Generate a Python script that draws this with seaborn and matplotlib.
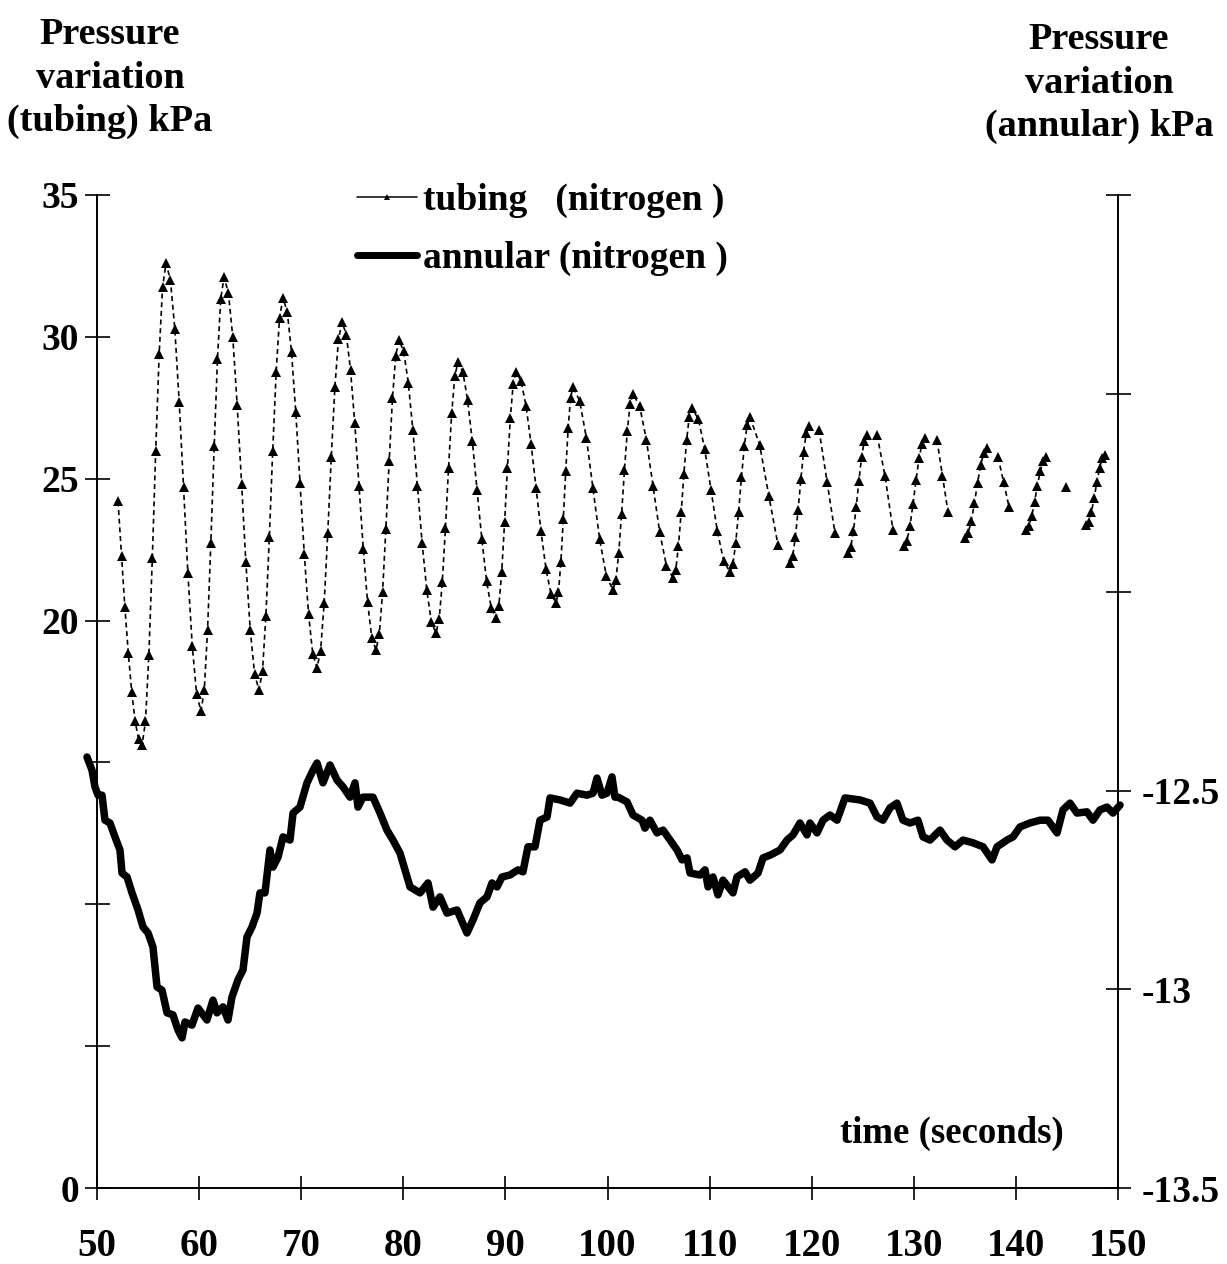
import numpy as np
import pandas as pd
import matplotlib
matplotlib.use("Agg")
import matplotlib.pyplot as plt
import seaborn as sns
from matplotlib.lines import Line2D

nan = np.nan

# ---------------- data ----------------
x_ticks = [50, 60, 70, 80, 90, 100, 110, 120, 130, 140, 150]
left_ticks = [0, 5, 10, 15, 20, 25, 30, 35]
left_labels = ["0", "", "", "", "20", "25", "30", "35"]
right_ticks = [-13.5, -13.0, -12.5, -12.0, -11.5, -11.0]
right_labels = ["-13.5", "-13", "-12.5", "", "", ""]

tubing_time = [
    52.06, 52.40, 52.73, 53.07, 53.40, 53.74, 54.07,
    54.41, 54.75, 55.08, 55.42, 55.75, 56.09, 56.42,
    56.76, 57.19, 57.62, 58.05, 58.48, 58.90, 59.33, 59.76,
    60.19, 60.51, 60.83, 61.15, 61.48, 61.80, 62.12,
    62.44, 62.87, 63.30, 63.73, 64.16, 64.58, 65.01, 65.44,
    65.87, 66.21, 66.54, 66.88, 67.21, 67.55, 67.88,
    68.22, 68.64, 69.05, 69.47, 69.89, 70.30, 70.72, 71.13,
    71.55, 71.90, 72.25, 72.60, 72.95, 73.30, 73.65,
    74.00, 74.42, 74.83, 75.25, 75.67, 76.08, 76.50, 76.91,
    77.33, 77.65, 77.97, 78.29, 78.62, 78.94, 79.26,
    79.58, 80.03, 80.49, 80.94, 81.39, 81.84, 82.30, 82.75,
    83.20, 83.51, 83.82, 84.13, 84.43, 84.74, 85.05,
    85.36, 85.83, 86.29, 86.76, 87.22, 87.69, 88.15, 88.62,
    89.08, 89.36, 89.64, 89.92, 90.20, 90.48, 90.76,
    91.04, 91.53, 92.02, 92.51, 93.00, 93.49, 93.98, 94.47,
    94.96, 95.20, 95.43, 95.67, 95.91, 96.15, 96.38,
    96.62, 97.27, 97.93, 98.58, 99.23, 99.89,
    100.54, 100.82, 101.10, 101.38, 101.66, 101.94, 102.22,
    102.50, 103.15, 103.81, 104.46, 105.11, 105.77,
    106.42, 106.69, 106.95, 107.22, 107.48, 107.75, 108.01,
    108.28, 108.90, 109.52, 110.14, 110.76, 111.38,
    112.00, 112.28, 112.56, 112.84, 113.12, 113.40, 113.68,
    113.96, 114.90, 115.80, 116.70, 117.30,
    117.87, 118.14, 118.40, 118.67, 118.94, 119.21, 119.47, 119.74, 120.20,
    120.72, 121.50, 122.28, 122.90,
    123.56, 123.83, 124.09, 124.36, 124.62, 124.89, 125.15, 125.42, 125.90,
    126.40, 127.18, 127.96, 128.50,
    129.04, 129.33, 129.63, 129.92, 130.22, 130.51, 130.81, 131.10, 131.70,
    132.27, 132.81, 133.35, 134.20,
    135.01, 135.32, 135.63, 135.94, 136.24, 136.55, 136.86, 137.17, 137.70,
    138.25, 138.79, 139.33, 140.20,
    140.99, 141.27, 141.55, 141.83, 142.11, 142.39, 142.67, 142.95, 143.90,
    144.91, 145.90,
    146.87, 147.14, 147.40, 147.67, 147.93, 148.20, 148.46, 148.73,
]
tubing_kpa = [
    24.20, 22.29, 20.47, 18.84, 17.48, 16.45, 15.82,
    15.60, 16.45, 18.80, 22.21, 25.99, 29.40, 31.75,
    32.60, 32.00, 30.29, 27.72, 24.70, 21.68, 19.11, 17.40,
    16.80, 17.57, 19.68, 22.75, 26.15, 29.22, 31.34,
    32.10, 31.55, 29.98, 27.60, 24.83, 22.05, 19.67, 18.10,
    17.55, 18.24, 20.15, 22.93, 25.99, 28.77, 30.68,
    31.37, 30.87, 29.47, 27.34, 24.85, 22.36, 20.23, 18.83,
    18.33, 18.94, 20.62, 23.07, 25.78, 28.23, 29.91,
    30.52, 30.08, 28.83, 26.95, 24.74, 22.53, 20.65, 19.40,
    18.96, 19.51, 21.01, 23.21, 25.64, 27.84, 29.34,
    29.89, 29.50, 28.38, 26.70, 24.73, 22.75, 21.07, 19.95,
    19.56, 20.04, 21.36, 23.27, 25.39, 27.31, 28.63,
    29.11, 28.77, 27.79, 26.32, 24.60, 22.88, 21.41, 20.43,
    20.09, 20.52, 21.72, 23.46, 25.39, 27.13, 28.33,
    28.76, 28.45, 27.57, 26.24, 24.69, 23.14, 21.81, 20.93,
    20.62, 21.00, 22.05, 23.58, 25.27, 26.80, 27.85,
    28.23, 27.75, 26.44, 24.66, 22.87, 21.56,
    21.08, 21.43, 22.38, 23.77, 25.30, 26.69, 27.64,
    27.99, 27.56, 26.37, 24.75, 23.12, 21.93,
    21.50, 21.80, 22.63, 23.83, 25.16, 26.36, 27.19,
    27.49, 27.10, 26.05, 24.60, 23.15, 22.10,
    21.71, 21.98, 22.74, 23.83, 25.05, 26.14, 26.90,
    27.17, 26.20, 24.40, 22.66, nan,
    22.03, 22.27, 22.94, 23.91, 24.98, 25.95, 26.62, 26.86, nan,
    26.72, 24.90, 23.09, nan,
    22.38, 22.59, 23.16, 24.00, 24.92, 25.76, 26.33, 26.54, nan,
    26.54, 25.10, 23.19, nan,
    22.63, 22.82, 23.34, 24.11, 24.95, 25.72, 26.24, 26.43, nan,
    26.36, 25.10, 23.83, nan,
    22.91, 23.07, 23.51, 24.14, 24.85, 25.48, 25.92, 26.08, nan,
    25.76, 24.90, 24.00, nan,
    23.19, 23.32, 23.67, 24.19, 24.76, 25.28, 25.63, 25.76, nan,
    24.71, nan,
    23.37, 23.49, 23.83, 24.33, 24.88, 25.38, 25.72, 25.84,
]

annular_time = [
    49.02, 49.51, 49.80, 50.10, 50.49, 50.78, 51.27, 51.76, 52.25, 52.45,
    52.94, 53.43, 54.02, 54.51, 55.00, 55.48, 55.88, 56.37, 56.86, 57.44,
    57.93, 58.33, 58.62, 59.30, 59.89, 60.77, 61.36, 61.75, 62.34, 62.83,
    63.22, 63.81, 64.30, 64.69, 65.18, 65.67, 65.96, 66.45, 66.94, 67.24,
    67.73, 68.22, 68.90, 69.20, 69.88, 70.57, 71.16, 71.55, 72.13, 72.82,
    73.51, 74.09, 74.78, 75.27, 75.56, 76.05, 77.03, 77.72, 78.40, 78.99,
    79.68, 80.66, 81.64, 82.42, 82.91, 83.59, 84.28, 85.26, 86.24, 86.83,
    87.51, 88.20, 88.69, 89.18, 89.67, 90.45, 91.23, 91.72, 92.21, 92.90,
    93.39, 94.08, 94.37, 95.35, 96.33, 97.01, 97.99, 98.58, 98.97, 99.46,
    99.95, 100.44, 100.73, 101.03, 101.91, 102.50, 103.38, 103.67, 104.16, 104.85,
    105.44, 106.13, 106.81, 107.30, 107.79, 108.08, 109.07, 109.55, 109.85, 110.33,
    110.82, 111.31, 112.29, 112.68, 113.47, 113.96, 114.74, 115.23, 115.92, 116.90,
    117.58, 118.17, 118.85, 119.54, 119.83, 120.52, 121.11, 121.79, 122.48, 123.26,
    124.73, 125.71, 126.40, 126.98, 127.67, 128.35, 128.94, 129.63, 130.41, 130.90,
    131.59, 132.57, 133.25, 134.04, 134.82, 135.80, 136.78, 137.66, 138.15, 139.13,
    139.72, 140.40, 141.38, 142.36, 143.14, 144.03, 144.61, 145.30, 145.98, 146.96,
    147.55, 148.24, 148.92, 149.51, 150.20,
]
annular_kpa = [
    -12.415, -12.448, -12.490, -12.511, -12.511, -12.574, -12.581, -12.616, -12.649, -12.707,
    -12.717, -12.757, -12.800, -12.843, -12.858, -12.893, -12.994, -13.002, -13.059, -13.064,
    -13.102, -13.122, -13.082, -13.090, -13.047, -13.077, -13.027, -13.059, -13.044, -13.077,
    -13.019, -12.976, -12.951, -12.868, -12.843, -12.808, -12.757, -12.757, -12.649, -12.692,
    -12.667, -12.616, -12.624, -12.556, -12.541, -12.480, -12.448, -12.430, -12.480, -12.435,
    -12.473, -12.490, -12.516, -12.480, -12.541, -12.516, -12.516, -12.556, -12.599, -12.624,
    -12.657, -12.742, -12.757, -12.732, -12.793, -12.767, -12.808, -12.800, -12.858, -12.825,
    -12.782, -12.767, -12.732, -12.742, -12.717, -12.712, -12.699, -12.704, -12.641, -12.641,
    -12.574, -12.566, -12.518, -12.523, -12.531, -12.506, -12.511, -12.506, -12.468, -12.511,
    -12.506, -12.465, -12.516, -12.516, -12.528, -12.561, -12.574, -12.594, -12.574, -12.606,
    -12.599, -12.624, -12.649, -12.674, -12.669, -12.707, -12.712, -12.699, -12.742, -12.717,
    -12.762, -12.725, -12.757, -12.717, -12.704, -12.725, -12.707, -12.669, -12.662, -12.649,
    -12.624, -12.611, -12.581, -12.611, -12.581, -12.606, -12.574, -12.561, -12.574, -12.518,
    -12.523, -12.531, -12.566, -12.574, -12.543, -12.531, -12.574, -12.581, -12.574, -12.616,
    -12.624, -12.599, -12.624, -12.641, -12.624, -12.631, -12.641, -12.674, -12.641, -12.624,
    -12.616, -12.591, -12.581, -12.574, -12.574, -12.606, -12.548, -12.531, -12.556, -12.553,
    -12.574, -12.548, -12.541, -12.556, -12.536,
]

legend_labels = ["tubing   (nitrogen )", "annular (nitrogen )"]
left_title = "Pressure\nvariation\n(tubing) kPa"
right_title = "Pressure\nvariation\n(annular) kPa"
x_title = "time (seconds)"

assert len(tubing_time) == len(tubing_kpa)
assert len(annular_time) == len(annular_kpa)

# ---------------- style ----------------
sns.set_style("ticks")
plt.rcParams["font.family"] = ["Liberation Serif", "DejaVu Serif"]
plt.rcParams["font.weight"] = "bold"
plt.rcParams["axes.linewidth"] = 1.4
for key in ["text.color", "axes.labelcolor", "xtick.color", "ytick.color",
            "axes.edgecolor", "xtick.labelcolor", "ytick.labelcolor"]:
    plt.rcParams[key] = "black"

W, H = 1227, 1264
fig = plt.figure(figsize=(W / 100, H / 100), dpi=100)
ax = fig.add_axes([97 / W, (H - 1188) / H, (1118 - 97) / W, (1188 - 195) / H])
ax2 = ax.twinx()

# tubing series (gaps in the record split it into segments)
tub = pd.DataFrame({"t": tubing_time, "p": tubing_kpa})
tub["seg"] = tub["p"].isna().cumsum()
tub = tub.dropna()
sns.lineplot(data=tub, x="t", y="p", units="seg", estimator=None, sort=False,
             ax=ax, color="black", legend=False)
for ln in ax.lines:
    ln.set_color("black")
    ln.set_linewidth(1.2)
    ln.set_dashes((3, 2.2))
    ln.set_marker("^")
    ln.set_markersize(7)
    ln.set_markeredgewidth(0)
    ln.set_markerfacecolor("black")

# annular series
ann = pd.DataFrame({"t": annular_time, "p": annular_kpa})
sns.lineplot(data=ann, x="t", y="p", estimator=None, sort=False, ax=ax2,
             color="black", legend=False)
for ln in ax2.lines:
    ln.set_color("black")
    ln.set_linewidth(5.4)
    ln.set_solid_joinstyle("round")
    ln.set_solid_capstyle("round")
    ln.set_clip_on(False)

# axes limits / ticks
ax.set_xlim(50, 150)
ax.set_ylim(0, 35)
ax2.set_ylim(-13.5, -11.0)
ax.set_xlabel("")
ax.set_ylabel("")
ax2.set_xlabel("")
ax2.set_ylabel("")

ax.set_xticks(x_ticks)
ax.set_xticklabels([str(v) for v in x_ticks])
ax.set_yticks(left_ticks)
ax.set_yticklabels(left_labels)
ax2.set_yticks(right_ticks)
ax2.set_yticklabels(right_labels)

ax.tick_params(axis="x", direction="inout", length=17, width=1.2, pad=20,
               labelsize=28, colors="black")
ax.tick_params(axis="y", direction="inout", length=18, width=1.2, pad=4,
               labelsize=27, colors="black")
ax2.tick_params(axis="y", direction="inout", length=18, width=1.2, pad=8,
                labelsize=27, colors="black")
for lab in ax.get_xticklabels() + ax.get_yticklabels() + ax2.get_yticklabels():
    lab.set_fontweight("bold")
    lab.set_color("black")

for s in ["top", "right"]:
    ax.spines[s].set_visible(False)
for s in ["top", "left", "bottom"]:
    ax2.spines[s].set_visible(False)
for a in (ax, ax2):
    for s in a.spines.values():
        s.set_color("black")
ax.patch.set_visible(False)
ax2.patch.set_visible(False)

# legend
handles = [
    Line2D([], [], color="black", lw=1.1, marker="^", markersize=5, markeredgewidth=0),
    Line2D([], [], color="black", lw=5.0),
]
leg = ax2.legend(handles, legend_labels, loc="upper left",
                 bbox_to_anchor=(357 / W, 1 - 183 / H), bbox_transform=fig.transFigure,
                 frameon=False, fontsize=27, handlelength=1.6, handletextpad=0.15,
                 borderpad=0, borderaxespad=0, labelspacing=0.62)
for t in leg.get_texts():
    t.set_fontweight("bold")
    t.set_color("black")

# titles
fig.text(110 / W, 1 - 17 / H, left_title, ha="center", va="top", fontsize=27.5,
         fontweight="bold", linespacing=1.32, color="black")
fig.text(1099 / W, 1 - 22 / H, right_title, ha="center", va="top", fontsize=27.5,
         fontweight="bold", linespacing=1.32, color="black")
fig.text(952 / W, 1 - 1133 / H, x_title, ha="center", va="center", fontsize=26.5,
         fontweight="bold", color="black")

fig.savefig("out.png", dpi=100, facecolor="white")
